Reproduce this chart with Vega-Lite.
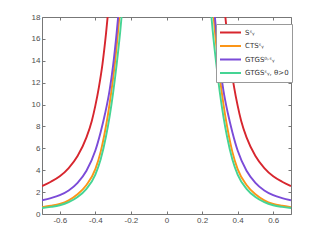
{
  "$schema": "https://vega.github.io/schema/vega-lite/v6.json",
  "width": 249,
  "height": 197,
  "autosize": "none",
  "padding": {"left": 42, "top": 17, "right": 30, "bottom": 27},
  "background": "white",
  "config": {
    "view": {"stroke": "#777777", "strokeWidth": 1},
    "font": "Liberation Sans",
    "axis": {
      "domain": false,
      "grid": false,
      "tickColor": "#777777",
      "tickSize": -3,
      "labelColor": "#4d4d4d",
      "labelFontSize": 8,
      "labelFont": "Liberation Sans"
    }
  },
  "data": {
    "values": [
      {"s": "Sˢᵧ", "b": "L", "x": -0.70, "y": 2.55},
      {"s": "Sˢᵧ", "b": "L", "x": -0.65, "y": 2.95},
      {"s": "Sˢᵧ", "b": "L", "x": -0.60, "y": 3.45},
      {"s": "Sˢᵧ", "b": "L", "x": -0.55, "y": 4.2},
      {"s": "Sˢᵧ", "b": "L", "x": -0.50, "y": 5.3},
      {"s": "Sˢᵧ", "b": "L", "x": -0.45, "y": 7.0},
      {"s": "Sˢᵧ", "b": "L", "x": -0.42, "y": 8.5},
      {"s": "Sˢᵧ", "b": "L", "x": -0.40, "y": 9.9},
      {"s": "Sˢᵧ", "b": "L", "x": -0.38, "y": 11.6},
      {"s": "Sˢᵧ", "b": "L", "x": -0.36, "y": 13.7},
      {"s": "Sˢᵧ", "b": "L", "x": -0.34, "y": 16.5},
      {"s": "Sˢᵧ", "b": "L", "x": -0.325, "y": 19.0},
      {"s": "Sˢᵧ", "b": "R", "x": 0.325, "y": 19.0},
      {"s": "Sˢᵧ", "b": "R", "x": 0.34, "y": 16.5},
      {"s": "Sˢᵧ", "b": "R", "x": 0.36, "y": 13.7},
      {"s": "Sˢᵧ", "b": "R", "x": 0.38, "y": 11.6},
      {"s": "Sˢᵧ", "b": "R", "x": 0.40, "y": 9.9},
      {"s": "Sˢᵧ", "b": "R", "x": 0.42, "y": 8.5},
      {"s": "Sˢᵧ", "b": "R", "x": 0.45, "y": 7.0},
      {"s": "Sˢᵧ", "b": "R", "x": 0.50, "y": 5.3},
      {"s": "Sˢᵧ", "b": "R", "x": 0.55, "y": 4.2},
      {"s": "Sˢᵧ", "b": "R", "x": 0.60, "y": 3.45},
      {"s": "Sˢᵧ", "b": "R", "x": 0.65, "y": 2.95},
      {"s": "Sˢᵧ", "b": "R", "x": 0.70, "y": 2.55},

      {"s": "CTSˢᵧ", "b": "L", "x": -0.70, "y": 0.63},
      {"s": "CTSˢᵧ", "b": "L", "x": -0.65, "y": 0.75},
      {"s": "CTSˢᵧ", "b": "L", "x": -0.60, "y": 0.92},
      {"s": "CTSˢᵧ", "b": "L", "x": -0.55, "y": 1.25},
      {"s": "CTSˢᵧ", "b": "L", "x": -0.50, "y": 1.8},
      {"s": "CTSˢᵧ", "b": "L", "x": -0.45, "y": 2.65},
      {"s": "CTSˢᵧ", "b": "L", "x": -0.40, "y": 4.1},
      {"s": "CTSˢᵧ", "b": "L", "x": -0.37, "y": 5.7},
      {"s": "CTSˢᵧ", "b": "L", "x": -0.35, "y": 7.2},
      {"s": "CTSˢᵧ", "b": "L", "x": -0.33, "y": 9.0},
      {"s": "CTSˢᵧ", "b": "L", "x": -0.31, "y": 11.2},
      {"s": "CTSˢᵧ", "b": "L", "x": -0.29, "y": 13.8},
      {"s": "CTSˢᵧ", "b": "L", "x": -0.275, "y": 16.2},
      {"s": "CTSˢᵧ", "b": "L", "x": -0.26, "y": 19.0},
      {"s": "CTSˢᵧ", "b": "R", "x": 0.26, "y": 19.0},
      {"s": "CTSˢᵧ", "b": "R", "x": 0.275, "y": 16.2},
      {"s": "CTSˢᵧ", "b": "R", "x": 0.29, "y": 13.8},
      {"s": "CTSˢᵧ", "b": "R", "x": 0.31, "y": 11.2},
      {"s": "CTSˢᵧ", "b": "R", "x": 0.33, "y": 9.0},
      {"s": "CTSˢᵧ", "b": "R", "x": 0.35, "y": 7.2},
      {"s": "CTSˢᵧ", "b": "R", "x": 0.37, "y": 5.7},
      {"s": "CTSˢᵧ", "b": "R", "x": 0.40, "y": 4.1},
      {"s": "CTSˢᵧ", "b": "R", "x": 0.45, "y": 2.65},
      {"s": "CTSˢᵧ", "b": "R", "x": 0.50, "y": 1.8},
      {"s": "CTSˢᵧ", "b": "R", "x": 0.55, "y": 1.25},
      {"s": "CTSˢᵧ", "b": "R", "x": 0.60, "y": 0.92},
      {"s": "CTSˢᵧ", "b": "R", "x": 0.65, "y": 0.75},
      {"s": "CTSˢᵧ", "b": "R", "x": 0.70, "y": 0.63},

      {"s": "GTGS⁰˒ˢᵧ", "b": "L", "x": -0.70, "y": 1.25},
      {"s": "GTGS⁰˒ˢᵧ", "b": "L", "x": -0.65, "y": 1.45},
      {"s": "GTGS⁰˒ˢᵧ", "b": "L", "x": -0.60, "y": 1.72},
      {"s": "GTGS⁰˒ˢᵧ", "b": "L", "x": -0.55, "y": 2.15},
      {"s": "GTGS⁰˒ˢᵧ", "b": "L", "x": -0.50, "y": 2.85},
      {"s": "GTGS⁰˒ˢᵧ", "b": "L", "x": -0.45, "y": 3.95},
      {"s": "GTGS⁰˒ˢᵧ", "b": "L", "x": -0.40, "y": 5.8},
      {"s": "GTGS⁰˒ˢᵧ", "b": "L", "x": -0.37, "y": 7.5},
      {"s": "GTGS⁰˒ˢᵧ", "b": "L", "x": -0.345, "y": 9.2},
      {"s": "GTGS⁰˒ˢᵧ", "b": "L", "x": -0.32, "y": 11.3},
      {"s": "GTGS⁰˒ˢᵧ", "b": "L", "x": -0.30, "y": 13.6},
      {"s": "GTGS⁰˒ˢᵧ", "b": "L", "x": -0.28, "y": 16.6},
      {"s": "GTGS⁰˒ˢᵧ", "b": "L", "x": -0.265, "y": 19.2},
      {"s": "GTGS⁰˒ˢᵧ", "b": "R", "x": 0.265, "y": 19.2},
      {"s": "GTGS⁰˒ˢᵧ", "b": "R", "x": 0.28, "y": 16.6},
      {"s": "GTGS⁰˒ˢᵧ", "b": "R", "x": 0.30, "y": 13.6},
      {"s": "GTGS⁰˒ˢᵧ", "b": "R", "x": 0.32, "y": 11.3},
      {"s": "GTGS⁰˒ˢᵧ", "b": "R", "x": 0.345, "y": 9.2},
      {"s": "GTGS⁰˒ˢᵧ", "b": "R", "x": 0.37, "y": 7.5},
      {"s": "GTGS⁰˒ˢᵧ", "b": "R", "x": 0.40, "y": 5.8},
      {"s": "GTGS⁰˒ˢᵧ", "b": "R", "x": 0.45, "y": 3.95},
      {"s": "GTGS⁰˒ˢᵧ", "b": "R", "x": 0.50, "y": 2.85},
      {"s": "GTGS⁰˒ˢᵧ", "b": "R", "x": 0.55, "y": 2.15},
      {"s": "GTGS⁰˒ˢᵧ", "b": "R", "x": 0.60, "y": 1.72},
      {"s": "GTGS⁰˒ˢᵧ", "b": "R", "x": 0.65, "y": 1.45},
      {"s": "GTGS⁰˒ˢᵧ", "b": "R", "x": 0.70, "y": 1.25},

      {"s": "GTGSˢᵧ, θ>0", "b": "L", "x": -0.70, "y": 0.55},
      {"s": "GTGSˢᵧ, θ>0", "b": "L", "x": -0.65, "y": 0.65},
      {"s": "GTGSˢᵧ, θ>0", "b": "L", "x": -0.60, "y": 0.8},
      {"s": "GTGSˢᵧ, θ>0", "b": "L", "x": -0.55, "y": 1.08},
      {"s": "GTGSˢᵧ, θ>0", "b": "L", "x": -0.50, "y": 1.55},
      {"s": "GTGSˢᵧ, θ>0", "b": "L", "x": -0.45, "y": 2.3},
      {"s": "GTGSˢᵧ, θ>0", "b": "L", "x": -0.40, "y": 3.6},
      {"s": "GTGSˢᵧ, θ>0", "b": "L", "x": -0.37, "y": 5.0},
      {"s": "GTGSˢᵧ, θ>0", "b": "L", "x": -0.34, "y": 7.1},
      {"s": "GTGSˢᵧ, θ>0", "b": "L", "x": -0.32, "y": 8.9},
      {"s": "GTGSˢᵧ, θ>0", "b": "L", "x": -0.30, "y": 11.1},
      {"s": "GTGSˢᵧ, θ>0", "b": "L", "x": -0.28, "y": 13.7},
      {"s": "GTGSˢᵧ, θ>0", "b": "L", "x": -0.26, "y": 16.7},
      {"s": "GTGSˢᵧ, θ>0", "b": "L", "x": -0.245, "y": 19.4},
      {"s": "GTGSˢᵧ, θ>0", "b": "R", "x": 0.245, "y": 19.4},
      {"s": "GTGSˢᵧ, θ>0", "b": "R", "x": 0.26, "y": 16.7},
      {"s": "GTGSˢᵧ, θ>0", "b": "R", "x": 0.28, "y": 13.7},
      {"s": "GTGSˢᵧ, θ>0", "b": "R", "x": 0.30, "y": 11.1},
      {"s": "GTGSˢᵧ, θ>0", "b": "R", "x": 0.32, "y": 8.9},
      {"s": "GTGSˢᵧ, θ>0", "b": "R", "x": 0.34, "y": 7.1},
      {"s": "GTGSˢᵧ, θ>0", "b": "R", "x": 0.37, "y": 5.0},
      {"s": "GTGSˢᵧ, θ>0", "b": "R", "x": 0.40, "y": 3.6},
      {"s": "GTGSˢᵧ, θ>0", "b": "R", "x": 0.45, "y": 2.3},
      {"s": "GTGSˢᵧ, θ>0", "b": "R", "x": 0.50, "y": 1.55},
      {"s": "GTGSˢᵧ, θ>0", "b": "R", "x": 0.55, "y": 1.08},
      {"s": "GTGSˢᵧ, θ>0", "b": "R", "x": 0.60, "y": 0.8},
      {"s": "GTGSˢᵧ, θ>0", "b": "R", "x": 0.65, "y": 0.65},
      {"s": "GTGSˢᵧ, θ>0", "b": "R", "x": 0.70, "y": 0.55}
    ]
  },
  "layer": [
    {
      "mark": {"type": "line", "clip": true, "strokeWidth": 1.9, "interpolate": "monotone"},
      "encoding": {
        "x": {
          "field": "x", "type": "quantitative",
          "scale": {"domain": [-0.7, 0.7], "nice": false, "zero": false},
          "axis": {
            "orient": "bottom", "title": null,
            "values": [-0.6, -0.4, -0.2, 0, 0.2, 0.4, 0.6],
            "labelPadding": 5,
            "labelExpr": "datum.value == 0 ? '0' : (datum.value < 0 ? '-' + format(-datum.value, '.1f') : format(datum.value, '.1f'))"
          }
        },
        "y": {
          "field": "y", "type": "quantitative",
          "scale": {"domain": [0, 18], "nice": false, "zero": false},
          "axis": {
            "orient": "left", "title": null,
            "values": [0, 2, 4, 6, 8, 10, 12, 14, 16, 18],
            "labelPadding": 5
          }
        },
        "color": {
          "field": "s", "type": "nominal",
          "scale": {
            "domain": ["Sˢᵧ", "CTSˢᵧ", "GTGS⁰˒ˢᵧ", "GTGSˢᵧ, θ>0"],
            "range": ["#d7262e", "#fb9518", "#7b4bd8", "#45d494"]
          },
          "legend": {
            "title": null,
            "orient": "none",
            "legendX": 174,
            "legendY": 7,
            "padding": 3,
            "fillColor": "white",
            "strokeColor": "#999999",
            "symbolType": "stroke",
            "symbolSize": 441,
            "symbolStrokeWidth": 2,
            "clipHeight": 11,
            "rowPadding": 2.5,
            "labelFont": "DejaVu Sans",
            "labelFontSize": 7,
            "labelColor": "#333333",
            "labelOffset": 3
          }
        },
        "detail": {"field": "b"}
      }
    },
    {
      "mark": {"type": "line", "clip": true, "opacity": 0},
      "encoding": {
        "x": {
          "field": "x", "type": "quantitative",
          "scale": {"domain": [-0.7, 0.7], "nice": false, "zero": false},
          "axis": {"orient": "top", "title": null, "labels": false, "values": [-0.6, -0.4, -0.2, 0, 0.2, 0.4, 0.6]}
        },
        "y": {
          "field": "y", "type": "quantitative",
          "scale": {"domain": [0, 18], "nice": false, "zero": false},
          "axis": {"orient": "right", "title": null, "labels": false, "values": [0, 2, 4, 6, 8, 10, 12, 14, 16, 18]}
        },
        "detail": {"field": "s"},
        "strokeDash": {"field": "b", "legend": null}
      }
    }
  ],
  "resolve": {"scale": {"x": "independent", "y": "independent"}}
}
